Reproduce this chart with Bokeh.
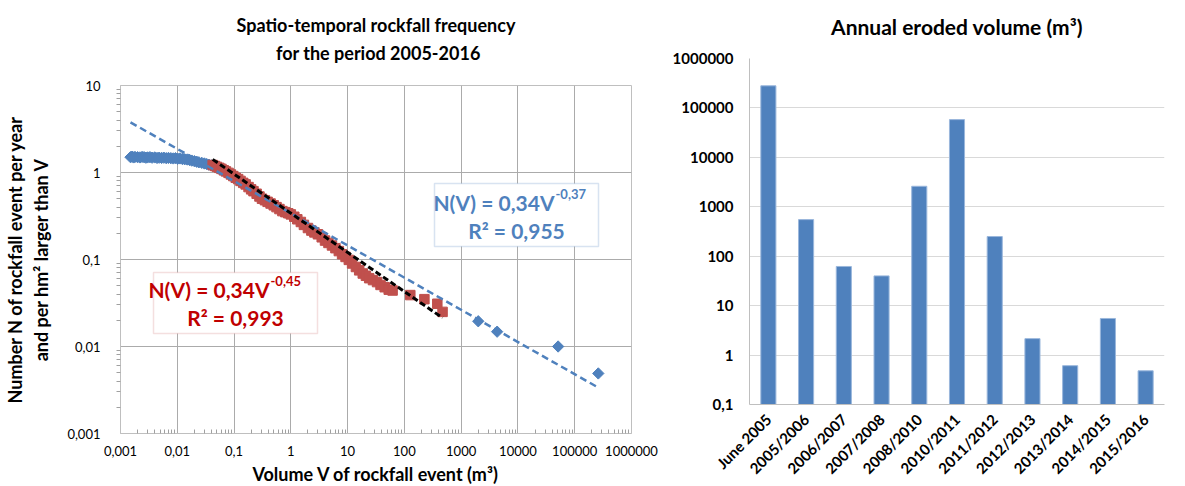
import math
from bokeh.plotting import figure
from bokeh.models import (FixedTicker, CustomJSTickFormatter, Label, BoxAnnotation,
                          FactorRange, Range1d, Title)
from bokeh.embed import file_html
from bokeh.resources import INLINE

# ---------------- data: left chart ----------------
blue_v = [0.0015, 0.0016, 0.0017, 0.0018, 0.002, 0.0022, 0.0024, 0.0026,
          0.0028, 0.003, 0.0033, 0.0036, 0.004, 0.0044, 0.0048, 0.0053, 0.0058, 0.0064,
          0.007, 0.0077, 0.0085, 0.0093, 0.0102, 0.0112, 0.0123, 0.0135, 0.015, 0.0165,
          0.018, 0.02, 0.022, 0.024, 0.027, 0.03, 0.033, 0.036, 0.04, 0.044,
          2000, 4300, 51000, 260000]
blue_n = [1.50, 1.52, 1.49, 1.51, 1.50, 1.49, 1.51, 1.50,
          1.48, 1.49, 1.50, 1.48, 1.49, 1.47, 1.48, 1.47, 1.48, 1.46,
          1.47, 1.46, 1.45, 1.46, 1.44, 1.45, 1.43, 1.42, 1.41, 1.39,
          1.37, 1.35, 1.33, 1.31, 1.29, 1.27, 1.25, 1.23, 1.21, 1.19,
          0.0195, 0.0148, 0.0100, 0.0049]

red_v = [0.042, 0.046, 0.05, 0.055, 0.06, 0.066, 0.072, 0.08, 0.088, 0.097,
         0.107, 0.118, 0.13, 0.145, 0.16, 0.18, 0.2, 0.22, 0.25, 0.28,
         0.31, 0.35, 0.39, 0.44, 0.5, 0.56, 0.63, 0.71, 0.8, 0.9,
         1.0, 1.15, 1.3, 1.5, 1.7, 2.0, 2.3, 2.6, 3.0, 3.5,
         4.0, 4.6, 5.3, 6.1, 7.0, 8.0, 9.2, 10.5, 12, 14,
         16, 18.5, 21, 24, 28, 33, 38, 45, 53, 62,
         127, 225, 380, 470]
red_n = [1.22, 1.19, 1.16, 1.13, 1.10, 1.06, 1.03, 0.99, 0.95, 0.91,
         0.87, 0.84, 0.80, 0.76, 0.73, 0.68, 0.64, 0.61, 0.57, 0.53,
         0.50, 0.48, 0.46, 0.44, 0.42, 0.40, 0.38, 0.36, 0.35, 0.34,
         0.33, 0.31, 0.29, 0.27, 0.25, 0.23, 0.215, 0.205, 0.195, 0.18,
         0.165, 0.155, 0.145, 0.135, 0.125, 0.115, 0.107, 0.099, 0.090, 0.082,
         0.075, 0.069, 0.065, 0.061, 0.058, 0.055, 0.051, 0.048, 0.045, 0.044,
         0.039, 0.035, 0.031, 0.025]

# power-law fits N(V) = a * V^b and the V span each one is drawn over
fit_all_a, fit_all_b = 0.34, -0.37
fit_all_span = [0.0015, 260000]
fit_red_a, fit_red_b = 0.34, -0.45
fit_red_span = [0.042, 470]

left_ticks = [0.001, 0.01, 0.1, 1, 10, 100, 1000, 10000, 100000, 1000000]
left_yticks = [0.001, 0.01, 0.1, 1, 10]

# ---------------- data: right chart ----------------
periods = ["June 2005", "2005/2006", "2006/2007", "2007/2008", "2008/2010", "2010/2011",
           "2011/2012", "2012/2013", "2013/2014", "2014/2015", "2015/2016"]
volumes = [280000, 550, 62, 40, 2600, 58000, 250, 2.15, 0.61, 5.5, 0.48]
right_yticks = [0.1, 1, 10, 100, 1000, 10000, 100000, 1000000]

FONT = "Lato"
BLUE = "#4f81bd"
RED = "#c0504d"
fmt = CustomJSTickFormatter(code="return tick.toString().replace('.', ',');")


def minor_of(ticks):
    out = []
    for t in ticks[:-1]:
        out += [t * k for k in range(2, 10)]
    return out


def text_label(x, y, text, size, color="#000000", align="center"):
    return Label(x=x, y=y, text=text, text_align=align, text_baseline="middle",
                 text_font=FONT, text_font_size=size, text_font_style="bold",
                 text_color=color, level="overlay")


def title_block(text, size, pad_bottom, line_height=1.2):
    return Title(text=text, align="center", text_font=FONT, text_font_size=size,
                 text_font_style="bold", text_color="#000000",
                 text_line_height=line_height,
                 padding=dict(left=0, right=0, top=0, bottom=pad_bottom))


# ================= left figure =================
p1 = figure(x_axis_type="log", y_axis_type="log",
            x_range=Range1d(0.001, 1000000), y_range=Range1d(0.001, 10),
            frame_width=511, frame_height=348,
            min_border_left=115, min_border_right=32, min_border_top=85, min_border_bottom=50,
            output_backend="svg", toolbar_location=None,
            background_fill_color="white", border_fill_color="white")
p1.title = None
# second line indented with no-break spaces so that both lines look centred
p1.add_layout(title_block("Spatio-temporal rockfall frequency\n"
                          + "\u00a0" * 9 + "for the period 2005-2016",
                          "18px", 16, 1.3), "above")
p1.outline_line_color = "#bfbfbf"

p1.xaxis.ticker = FixedTicker(ticks=left_ticks, minor_ticks=minor_of(left_ticks))
p1.yaxis.ticker = FixedTicker(ticks=left_yticks, minor_ticks=minor_of(left_yticks))
p1.xaxis.formatter = fmt
p1.yaxis.formatter = fmt
for ax in (p1.xaxis, p1.yaxis):
    ax.axis_line_color = "#bfbfbf"
    ax.major_tick_in = 0
    ax.major_tick_out = 0
    ax.minor_tick_line_color = "#a0a0a0"
    ax.major_label_text_font = FONT
    ax.major_label_text_font_size = "13px"
    ax.major_label_text_color = "#000000"
    ax.axis_label_text_font = FONT
    ax.axis_label_text_font_size = "18px"
    ax.axis_label_text_font_style = "bold"
    ax.axis_label_text_color = "#000000"
p1.xaxis.minor_tick_in = 4
p1.xaxis.minor_tick_out = 0
p1.yaxis.minor_tick_in = 0
p1.yaxis.minor_tick_out = 4
p1.xaxis.major_label_standoff = 12
p1.yaxis.major_label_standoff = 16
p1.xaxis.axis_label = "Volume V of rockfall event (m³)"
p1.yaxis.axis_label = "Number N of rockfall event per year\nand per hm² larger than V"
p1.xaxis.axis_label_standoff = 4
p1.yaxis.axis_label_standoff = 12
p1.grid.grid_line_color = "#ababab"
p1.grid.grid_line_width = 1
p1.xgrid.ticker = FixedTicker(ticks=left_ticks)
p1.ygrid.ticker = FixedTicker(ticks=left_yticks)

p1.scatter(blue_v, blue_n, marker="square", angle=math.pi / 4, size=8,
           fill_color=BLUE, line_color=BLUE)
p1.scatter(red_v, red_n, marker="square", size=9.5, fill_color=RED, line_color=RED)
p1.line(fit_all_span, [fit_all_a * v ** fit_all_b for v in fit_all_span],
        line_color=BLUE, line_width=2.5, line_dash="7 4")
p1.line(fit_red_span, [fit_red_a * v ** fit_red_b for v in fit_red_span],
        line_color="#000000", line_width=3, line_dash="6 3")


# pixel -> data helpers for annotation placement (left frame 115..626 x 85..433)
def X(px):
    return 10 ** (-3 + (px - 115) / (511 / 9))


def Y(py):
    return 10 ** (1 - (py - 85) / 87)


def eq_box(p, left, right, top, bottom, join_x, y1, y2, cx, base, expo, r2, tcol, bcol):
    p.add_layout(BoxAnnotation(left=X(left), right=X(right), top=Y(top), bottom=Y(bottom),
                               fill_color="white", fill_alpha=1, line_color=bcol,
                               line_width=1.5, level="overlay"))
    p.add_layout(text_label(X(join_x), Y(y1), base, "21px", tcol, "right"))
    p.add_layout(text_label(X(join_x + 1), Y(y1 - 9), expo, "13px", tcol, "left"))
    p.add_layout(text_label(X(cx), Y(y2), r2, "21px", tcol, "center"))


eq_box(p1, 429, 593, 183, 246, 549, 202, 230, 511,
       "N(V) = 0,34V", "-0,37", "R² = 0,955", BLUE, "#7da3d1")
eq_box(p1, 148, 312, 272, 333, 264, 289, 317, 230,
       "N(V) = 0,34V", "-0,45", "R² = 0,993", "#c00000", "#d99694")

# ================= right figure =================
p2 = figure(x_range=FactorRange(*periods, range_padding=0), y_axis_type="log",
            y_range=Range1d(0.1, 1000000),
            frame_width=415, frame_height=346,
            min_border_left=109, min_border_right=21, min_border_top=58, min_border_bottom=82,
            output_backend="svg", toolbar_location=None,
            background_fill_color="white", border_fill_color=None)
p2.title = None
p2.add_layout(title_block("Annual eroded volume (m³)", "21px", 15), "above")
p2.outline_line_color = None

p2.vbar(x=periods, top=volumes, bottom=0.1, width=0.4,
        fill_color=BLUE, line_color="#9ab7dc", line_width=1)

p2.yaxis.ticker = FixedTicker(ticks=right_yticks, minor_ticks=[])
p2.yaxis.formatter = fmt
p2.xgrid.grid_line_color = None
p2.ygrid.grid_line_color = "#d9d9d9"
p2.ygrid.ticker = FixedTicker(ticks=right_yticks)
for ax in (p2.xaxis, p2.yaxis):
    ax.axis_line_color = "#bfbfbf"
    ax.major_tick_in = 0
    ax.major_tick_out = 0
    ax.minor_tick_in = 0
    ax.minor_tick_out = 0
    ax.major_label_text_font = FONT
    ax.major_label_text_font_style = "bold"
    ax.major_label_text_color = "#000000"
p2.yaxis.major_label_text_font_size = "15px"
p2.yaxis.major_label_standoff = 16
p2.xaxis.major_label_text_font_size = "15px"
p2.xaxis.major_label_orientation = math.pi / 4
p2.xaxis.major_label_standoff = 12

# place the two charts side by side without frame alignment
p1.styles = {"position": "absolute", "left": "0px", "top": "0px"}
p2.styles = {"position": "absolute", "left": "640px", "top": "0px"}

open("out.html", "w").write(file_html([p1, p2], INLINE))
